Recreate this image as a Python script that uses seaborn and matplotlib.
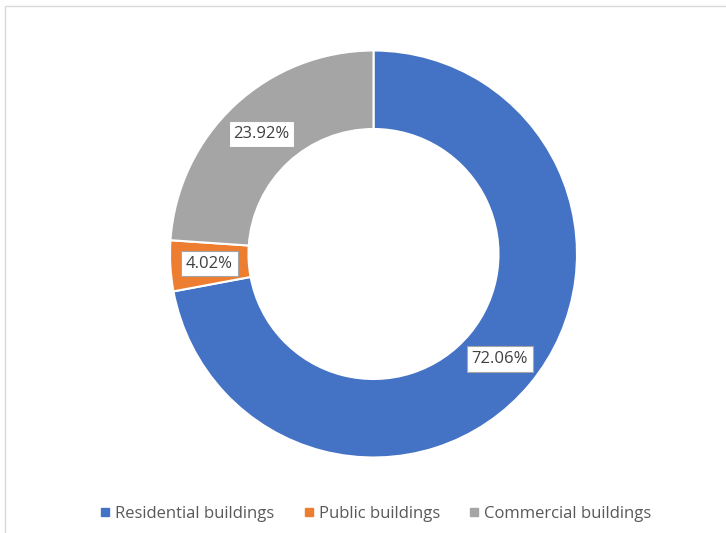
import matplotlib
matplotlib.use("Agg")
import matplotlib.pyplot as plt
import seaborn as sns
import numpy as np
from matplotlib.patches import Rectangle
from matplotlib.lines import Line2D

# Share of building energy use by building type
categories = ["Residential buildings", "Public buildings", "Commercial buildings"]
shares = [72.06, 4.02, 23.92]
labels = ["72.06%", "4.02%", "23.92%"]
colors = ["#4472C4", "#ED7D31", "#A5A5A5"]

sns.set_theme(style="white")
plt.rcParams["font.family"] = ["Open Sans", "DejaVu Sans"]

W, H = 726, 533
fig = plt.figure(figsize=(W / 100, H / 100), dpi=100)
fig.patch.set_facecolor("white")

# Outer frame of the chart area
fig.add_artist(Rectangle((5 / W, -0.01), 1.0, (H - 6) / H + 0.01,
                         transform=fig.transFigure, fill=False,
                         edgecolor="#D9D9D9", linewidth=1.0))

cx, cy, R = 373.5, 254.0, 203.5
half = 215.0
ax = fig.add_axes([(cx - half) / W, (H - cy - half) / H, 2 * half / W, 2 * half / H])

inner = 125.0 / R
width = 1 - inner
wedges, _ = ax.pie(shares, colors=colors, startangle=90, counterclock=False,
                   radius=1.0,
                   wedgeprops=dict(width=width, edgecolor="white", linewidth=1.5))
ax.set_xlim(-half / R, half / R)
ax.set_ylim(-half / R, half / R)
ax.set_aspect("equal")
ax.axis("off")

mid_r = 1 - width / 2
cum = 0.0
for val, lab in zip(shares, labels):
    ang = np.deg2rad(90 - (cum + val / 2) / 100 * 360)
    cum += val
    ax.text(mid_r * np.cos(ang), mid_r * np.sin(ang), lab,
            ha="center", va="center", fontsize=12, color="#404040",
            bbox=dict(boxstyle="square,pad=0.28", facecolor="white",
                      edgecolor="#A6A6A6", linewidth=0.8))

handles = [Line2D([0], [0], marker="s", linestyle="none", markersize=6,
                  markerfacecolor=c, markeredgecolor=c) for c in colors]
fig.legend(handles, categories, loc="center",
           bbox_to_anchor=(374 / W, (H - 514) / H),
           ncol=3, frameon=False, fontsize=12, labelcolor="#595959",
           handletextpad=0.1, columnspacing=1.55, handlelength=1.0)

fig.savefig("out.png", dpi=100, facecolor="white")
